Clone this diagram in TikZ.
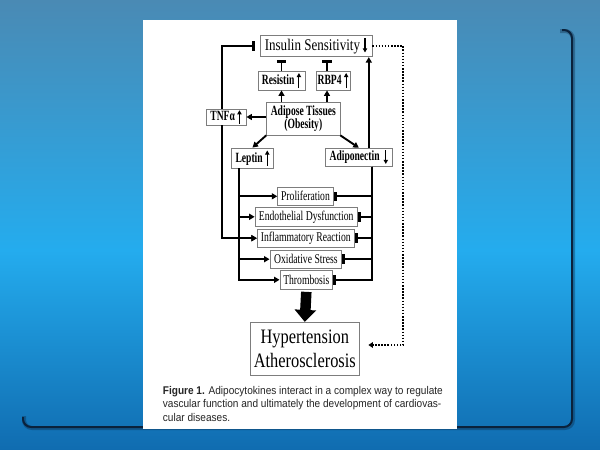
\documentclass[tikz,border=0pt]{standalone}
\usepackage{fontspec}
\setmainfont{Liberation Serif}
\newfontfamily\figfont[FakeStretch=0.8]{Liberation Serif}
\newfontfamily\figcond[FakeStretch=0.72]{Liberation Serif}
\newfontfamily\labfont[FakeStretch=0.68]{Liberation Serif}
\newfontfamily\capfont[FakeStretch=0.9]{Liberation Sans}
\usetikzlibrary{arrows.meta,calc}
\definecolor{bgtop}{RGB}{74,138,180}
\definecolor{bgmid}{RGB}{36,172,238}
\definecolor{bgbot}{RGB}{16,108,176}
\definecolor{boxgray}{RGB}{125,125,125}
\definecolor{shadowc}{RGB}{10,34,60}
\newcommand\uarr[2]{\tikz[baseline=0pt]\draw[line width=1.1pt,-{Triangle[length=4.2pt,width=4.4pt]}] (0pt,-#1) -- (0pt,#2);}
\newcommand\darr[2]{\tikz[baseline=0pt]\draw[line width=1.1pt,-{Triangle[length=4.2pt,width=4.4pt]}] (0pt,#2) -- (0pt,-#1);}
\begin{document}
\begin{tikzpicture}[x=1pt,y=-1pt,
  box/.style={draw=boxgray,line width=0.8pt,fill=white,inner sep=0pt,align=center,
    font=\figcond\fontsize{13.4}{14}\selectfont},
  lbl/.style={box,font=\labfont\bfseries\fontsize{14.1}{13.5}\selectfont},
  arr/.style={line width=1.9pt,-{Triangle[length=5.5pt,width=6pt]}},
  inh/.style={line width=1.9pt,-{Bar[width=9.5pt,line width=3pt]}},
  dotl/.style={line width=1.7pt,dash pattern=on 1.5pt off 1.6pt,-{Triangle[length=4.5pt,width=5.5pt]}},
  bigarr/.style={line width=10.5pt,-{Triangle[length=12pt,width=21pt]}},
  capt/.style={anchor=base west,inner sep=0pt,text=black!85,font=\capfont\fontsize{11.2}{12}\selectfont}]
\useasboundingbox (0,0) rectangle (600,450);
% background
\shade[top color=bgtop,bottom color=bgmid] (0,0) rectangle (600,251);
\shade[top color=bgmid,bottom color=bgbot] (0,250) rectangle (600,450);
% panel shadow edge
\draw[shadowc,opacity=0.35,line width=4pt,rounded corners=8pt] (560,31) -- (573,31) -- (573,428) -- (24,428) -- (24,416);
\draw[shadowc,line width=2pt,rounded corners=8pt] (562,30) -- (572,30) -- (572,427) -- (23,427) -- (23,417);
% page
\fill[white] (143,20) rectangle (456.7,429);
% nodes
\node[box,minimum width=112pt,minimum height=21pt,font=\figfont\fontsize{16.3}{17}\selectfont] (ins) at (316,46.2) {Insulin Sensitivity\,\darr{1.5pt}{12.5pt}};
\node[lbl,minimum width=47pt,minimum height=19pt] (res) at (281.5,80.5) {Resistin\,\uarr{3.5pt}{11.5pt}};
\node[lbl,minimum width=34pt,minimum height=19pt] (rbp) at (333,80.5) {RBP4\,\uarr{3.5pt}{11.5pt}};
\node[lbl,minimum width=73.3pt,minimum height=32.3pt] (adi) at (303.3,118.8) {Adipose Tissues\\(Obesity)};
\node[lbl,minimum width=40pt,minimum height=16pt] (tnf) at (226,117) {TNFα\,\uarr{3pt}{10.5pt}};
\node[lbl,minimum width=41.6pt,minimum height=20pt] (lep) at (252.5,158) {Leptin\,\uarr{3.5pt}{11.5pt}};
\node[lbl,minimum width=67.7pt,minimum height=18pt] (adp) at (358.8,157.2) {Adiponectin\;\darr{3pt}{10.5pt}};
\node[box,minimum width=55.6pt,minimum height=17.3pt] (pro) at (305.5,196.3) {Proliferation};
\node[box,minimum width=102.3pt,minimum height=18.3pt] (endo) at (306.2,216.8) {Endothelial Dysfunction};
\node[box,minimum width=97pt,minimum height=18.3pt] (infl) at (305.8,238.2) {Inflammatory Reaction};
\node[box,minimum width=71.7pt,minimum height=18.3pt] (oxi) at (305.8,259.2) {Oxidative Stress};
\node[box,minimum width=52.7pt,minimum height=18.3pt] (thr) at (306.3,279.8) {Thrombosis};
\node[box,minimum width=108.3pt,minimum height=53.4pt,font=\figfont\fontsize{20.5}{24}\selectfont] (hyp) at (304.8,349) {Hypertension\\Atherosclerosis};
% connectors
\draw[inh] ($(tnf.north)+(-4.3,0)$) |- ($(ins.west)+(-5,0)$);
\draw[arr] (adi.west |- tnf.east) -- (tnf.east);
\draw[arr] (adi.north -| res.north) -- (res.south);
\draw[arr] ($(adi.north -| rbp.north)+(-6,0)$) -- ($(rbp.south)+(-6,0)$);
\draw[inh,shorten >=3pt] (res.north) -- (res.north |- ins.south);
\draw[inh,shorten >=3pt] ($(rbp.north)+(-6,0)$) -- ($(rbp.north |- ins.south)+(-6,0)$);
\draw[arr] (adi.south west) -- (lep.north);
\draw[arr] (adi.south east) -- (adp.north);
\draw[arr] ($(adp.north)+(10,0)$) -- ($(adp.north |- ins.south)+(10,0)$);
\foreach \b in {pro,endo,infl,oxi,thr}{
  \draw[arr] ($(lep.south)+(-13.5,0)$) |- (\b.west);
  \draw[inh] ($(adp.south)+(12.9,0)$) |- (\b.east);
}
\draw[arr] ($(tnf.south)+(-4.3,0)$) |- (infl.west);
\coordinate (dc) at (403.3,345);
\draw[dotl,shorten >=9pt] (ins.east) -| (dc) -- (dc -| hyp.east);
\draw[bigarr] ($(thr.south)+(0,2.5)$) -- (hyp.north);
% caption
\node[capt] (cap1) at (162.7,394) {\textbf{Figure 1.} Adipocytokines interact in a complex way to regulate};
\node[capt] (cap2) at (162.7,407.5) {vascular function and ultimately the development of cardiovas-};
\node[capt] (cap3) at (162.7,421) {cular diseases.};
\end{tikzpicture}
\end{document}
